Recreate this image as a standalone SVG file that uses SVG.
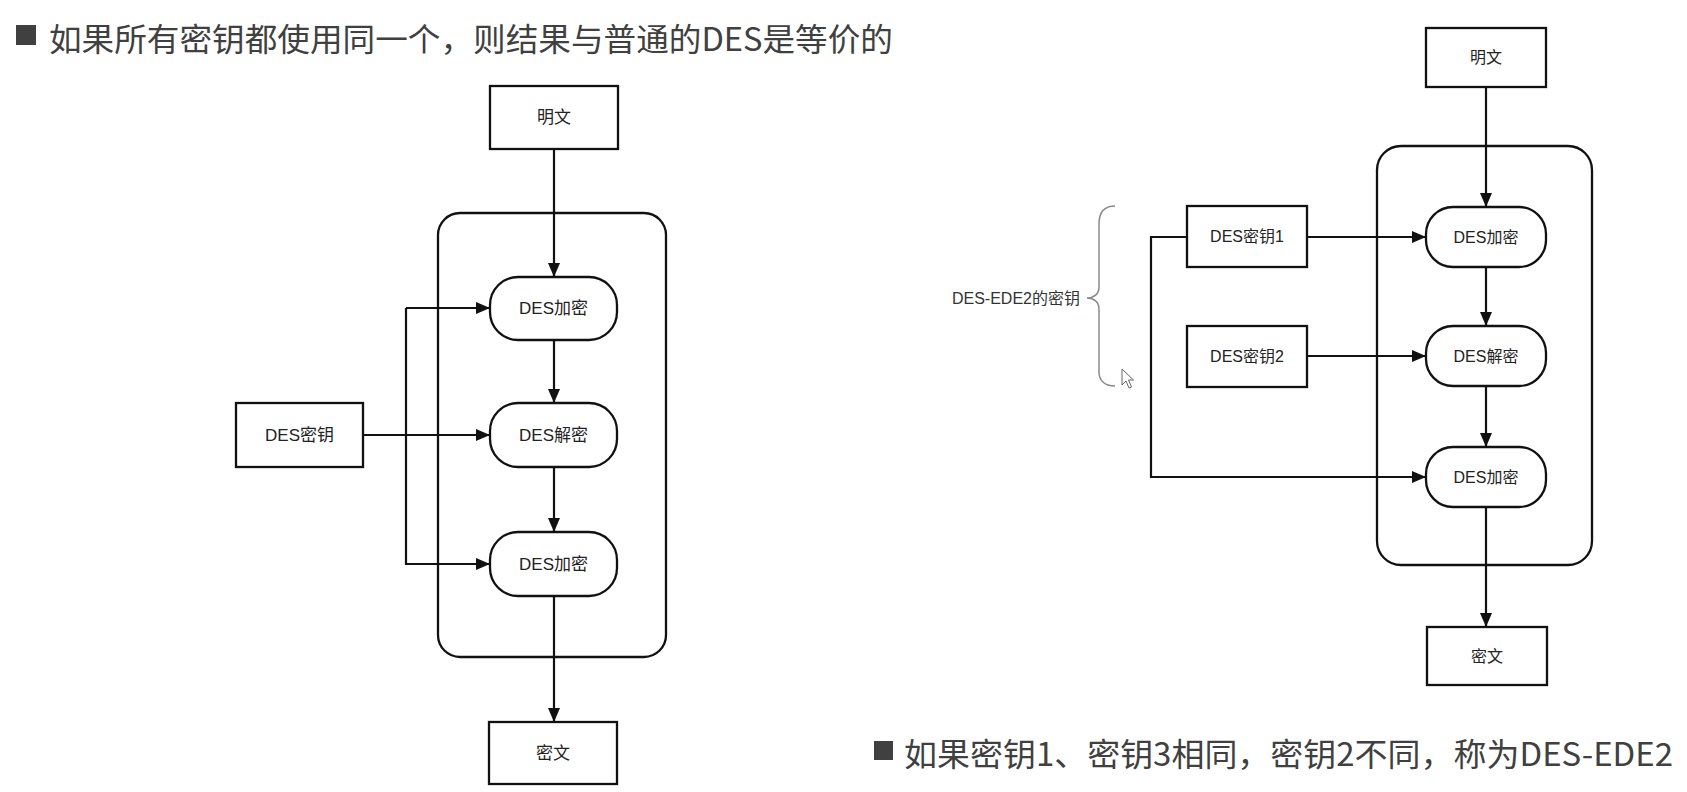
<svg xmlns="http://www.w3.org/2000/svg" width="1687" height="792" viewBox="0 0 1687 792">
<style>
.box{fill:#fff;stroke:#111;stroke-width:2.3}
.cont{fill:none;stroke:#111;stroke-width:2.3}
.lbl{font-family:"Liberation Sans","Noto Sans CJK SC",sans-serif;fill:#222;text-anchor:middle;dominant-baseline:central}
.l16{font-size:17px}
.l15{font-size:16px}
.head{font-family:"Noto Sans CJK SC","Noto Sans",sans-serif;font-size:32px;fill:#404040;dominant-baseline:central}
.conn path{fill:none;stroke:#111;stroke-width:2.2}
.arr{marker-end:url(#ah)}
</style>
<defs>
<marker id="ah" markerUnits="userSpaceOnUse" markerWidth="14" markerHeight="12" refX="14" refY="6" orient="auto">
<path d="M0,0 L14,6 L0,12 Z" fill="#111"/>
</marker>
</defs>
<rect width="1687" height="792" fill="#fff"/>

<g id="heading1">
<rect x="16" y="25" width="20" height="20" fill="#404040"/>
<text class="head" x="49" y="37" textLength="844" lengthAdjust="spacingAndGlyphs">如果所有密钥都使用同一个，则结果与普通的DES是等价的</text>
</g>
<g id="heading2">
<rect x="874" y="741" width="19" height="19" fill="#404040"/>
<text class="head" x="904" y="752" textLength="769" lengthAdjust="spacingAndGlyphs">如果密钥1、密钥3相同，密钥2不同，称为DES-EDE2</text>
</g>

<!-- left diagram -->
<g id="L-container"><rect class="cont" x="438" y="213" width="228" height="444" rx="22"/></g>
<g id="L-plain"><rect class="box" x="490" y="86" width="128" height="63"/><text class="lbl l16" x="554" y="117.5">明文</text></g>
<g id="L-enc1"><rect class="box" x="490" y="277" width="127" height="63" rx="28"/><text class="lbl l16" x="553.5" y="308.5">DES加密</text></g>
<g id="L-dec"><rect class="box" x="490" y="403" width="127" height="64" rx="28"/><text class="lbl l16" x="553.5" y="435">DES解密</text></g>
<g id="L-enc2"><rect class="box" x="490" y="532" width="127" height="64" rx="28"/><text class="lbl l16" x="553.5" y="564">DES加密</text></g>
<g id="L-cipher"><rect class="box" x="489" y="722" width="128" height="62"/><text class="lbl l16" x="553" y="753">密文</text></g>
<g id="L-key"><rect class="box" x="236" y="403" width="127" height="64"/><text class="lbl l16" x="299.5" y="435">DES密钥</text></g>

<!-- right diagram -->
<g id="R-container"><rect class="cont" x="1377" y="146" width="215" height="419" rx="24"/></g>
<g id="R-plain"><rect class="box" x="1426" y="28" width="120" height="59"/><text class="lbl l15" x="1486" y="57.5">明文</text></g>
<g id="R-enc1"><rect class="box" x="1426" y="207" width="120" height="60" rx="27"/><text class="lbl l15" x="1486" y="237">DES加密</text></g>
<g id="R-dec"><rect class="box" x="1426" y="326" width="120" height="60" rx="27"/><text class="lbl l15" x="1486" y="356">DES解密</text></g>
<g id="R-enc2"><rect class="box" x="1426" y="447" width="120" height="60" rx="27"/><text class="lbl l15" x="1486" y="477">DES加密</text></g>
<g id="R-cipher"><rect class="box" x="1427" y="627" width="120" height="58"/><text class="lbl l15" x="1487" y="656">密文</text></g>
<g id="R-key1"><rect class="box" x="1187" y="206" width="120" height="61"/><text class="lbl l15" x="1247" y="236.5">DES密钥1</text></g>
<g id="R-key2"><rect class="box" x="1187" y="326" width="120" height="61"/><text class="lbl l15" x="1247" y="356.5">DES密钥2</text></g>
<g id="R-brace">
<path d="M1115,206 C1104,206 1099,212 1099,224 V287 C1099,294 1094,298 1087,298 C1094,298 1099,302 1099,309 V372 C1099,380 1104,386 1115,386" fill="none" stroke="#8a8a8a" stroke-width="1.5"/>
<text class="lbl l16" x="1080" y="298" style="text-anchor:end;fill:#333;font-size:16px">DES-EDE2的密钥</text>
</g>
<g id="cursor">
<path d="M1122,369 L1122,385 L1126,381 L1129,388 L1131.5,387 L1128.5,380 L1133.5,380 Z" fill="#fff" stroke="#666" stroke-width="1"/>
</g>

<g id="connectors" class="conn">
<path class="arr" d="M554,149 V277"/>
<path class="arr" d="M554,340 V403"/>
<path class="arr" d="M554,467 V532"/>
<path class="arr" d="M554,596 V722"/>
<path class="arr" d="M363,435 H490"/>
<path class="arr" d="M406,308 H490"/>
<path class="arr" d="M406,308 V564 H490"/>

<path class="arr" d="M1486,87 V207"/>
<path class="arr" d="M1486,267 V326"/>
<path class="arr" d="M1486,386 V447"/>
<path class="arr" d="M1486,507 V627"/>
<path class="arr" d="M1307,237 H1426"/>
<path class="arr" d="M1307,356 H1426"/>
<path class="arr" d="M1187,237 H1151 V477 H1426"/>
</g>
</svg>
